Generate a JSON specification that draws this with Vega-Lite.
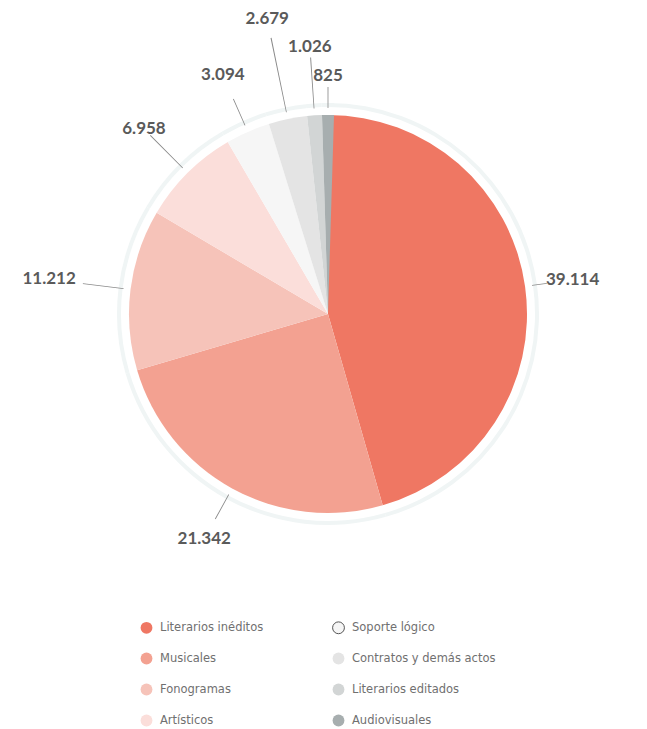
{
  "$schema": "https://vega.github.io/schema/vega-lite/v6.json",
  "width": 656,
  "height": 628,
  "padding": 0,
  "background": "white",
  "config": {
    "view": {"stroke": null},
    "locale": {"number": {"decimal": ",", "thousands": ".", "grouping": [3], "currency": ["", " €"]}}
  },
  "data": {
    "values": [
      {"categoria": "Literarios inéditos", "valor": 39114, "orden": 1},
      {"categoria": "Musicales", "valor": 21342, "orden": 2},
      {"categoria": "Fonogramas", "valor": 11212, "orden": 3},
      {"categoria": "Artísticos", "valor": 6958, "orden": 4},
      {"categoria": "Soporte lógico", "valor": 3094, "orden": 5},
      {"categoria": "Contratos y demás actos", "valor": 2679, "orden": 6},
      {"categoria": "Literarios editados", "valor": 1026, "orden": 7},
      {"categoria": "Audiovisuales", "valor": 825, "orden": 8}
    ]
  },
  "transform": [
    {"stack": "valor", "groupby": [], "sort": [{"field": "orden", "order": "ascending"}], "as": ["s0", "s1"]},
    {"calculate": "(datum.s0 + datum.s1) / 2", "as": "mid"},
    {"calculate": "datum.mid - 26", "as": "l0"},
    {"calculate": "datum.mid + 26", "as": "l1"}
  ],
  "layer": [
    {
      "mark": {"type": "arc", "fill": "#f0f5f5", "stroke": null},
      "encoding": {
        "theta": {"field": "s0", "type": "quantitative", "scale": {"zero": true, "nice": false}},
        "theta2": {"field": "s1"},
        "radius": {"value": 211},
        "radius2": {"value": 207}
      }
    },
    {
      "mark": {"type": "arc", "strokeWidth": 1},
      "encoding": {
        "theta": {"field": "s0", "type": "quantitative"},
        "theta2": {"field": "s1"},
        "radius": {"value": 199},
        "color": {
          "field": "categoria",
          "type": "nominal",
          "scale": {
            "domain": ["Literarios inéditos", "Musicales", "Fonogramas", "Artísticos", "Soporte lógico", "Contratos y demás actos", "Literarios editados", "Audiovisuales"],
            "range": ["#EF7763", "#F3A191", "#F6C3B9", "#FBDEDA", "#F6F6F6", "#E4E4E4", "#D2D5D5", "#A7AEAF"]
          },
          "legend": {
            "title": null,
            "orient": "none",
            "legendX": 140,
            "legendY": 621,
            "columns": 2,
            "columnPadding": 66,
            "rowPadding": 14,
            "symbolType": "circle",
            "symbolSize": 140,
            "symbolStrokeWidth": 0,
            "labelFont": "DejaVu Sans",
            "labelFontSize": 11.5,
            "labelColor": "#707070",
            "labelOffset": 7,
            "labelLimit": 200,
            "padding": 0,
            "encode": {
              "symbols": {
                "update": {
                  "stroke": {"signal": "datum.label === 'Soporte lógico' ? '#555555' : 'transparent'"},
                  "strokeWidth": {"value": 1},
                  "fill": {"signal": "datum.label === 'Soporte lógico' ? '#ffffff' : scale('color', datum.value)"}
                }
              }
            }
          }
        }
      }
    },
    {
      "mark": {"type": "arc", "fill": "#8a8a8a", "stroke": null},
      "encoding": {
        "theta": {"field": "l0", "type": "quantitative"},
        "theta2": {"field": "l1"},
        "radius": {"value": {"expr": "[221,234,247,252,235,282,257,227][datum.orden - 1]"}},
        "radius2": {"value": 206}
      }
    },
    {
      "mark": {"type": "text", "font": "Lato", "fontSize": 17, "fontWeight": "bold", "color": "#5a5a5a", "align": "center", "baseline": "middle"},
      "encoding": {
        "theta": {"field": "mid", "type": "quantitative"},
        "radius": {"value": {"expr": "[247,257,281,261,261,301,268,238][datum.orden - 1]"}},
        "text": {"field": "valor", "type": "quantitative", "format": ",d"}
      }
    }
  ]
}
